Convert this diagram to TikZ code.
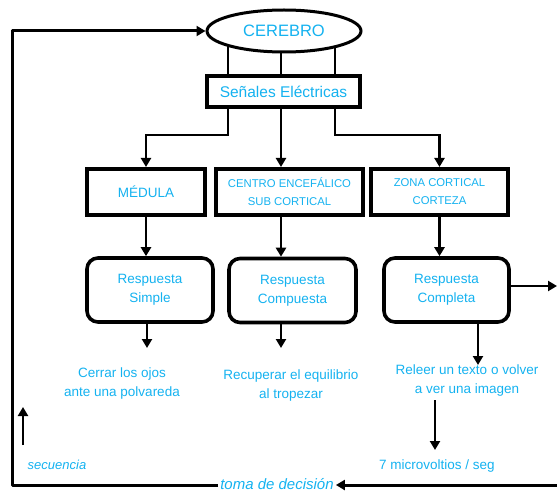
\documentclass[tikz,border=0pt]{standalone}
\usepackage{fontspec}
\setmainfont{Liberation Sans}
\usetikzlibrary{arrows.meta,shapes.geometric,backgrounds}
\definecolor{labelblue}{RGB}{20,178,240}
\begin{document}
\begin{tikzpicture}[x=1pt,y=-1pt,
  txt/.style={text=labelblue, align=center},
  box/.style={draw, line width=4pt, fill=white, inner sep=0pt, txt},
  rbox/.style={box, rounded corners=11pt, line width=3.6pt,
    minimum width=126pt, minimum height=64pt, font=\fontsize{13.5}{19}\selectfont},
  conn/.style={line width=2.4pt},
  arr/.style={conn, -{Triangle[length=9pt,width=10pt]}},
  loopline/.style={line width=3pt, line join=round},
  lbl/.style={txt, font=\fontsize{13.5}{19}\selectfont},
]
\useasboundingbox (0,0) rectangle (557,492);

% top of the chart
\node[ellipse, draw, line width=3pt, fill=white, minimum width=154pt,
  minimum height=42pt, inner sep=0pt, txt, font=\fontsize{16.5}{20}\selectfont]
  (cerebro) at (284,31) {CEREBRO};
\node[box, minimum width=153pt, minimum height=31pt, font=\fontsize{15.5}{19}\selectfont]
  (senales) at (283.5,91.5) {Señales Eléctricas};

% processing levels
\node[box, minimum width=118pt, minimum height=46pt, font=\fontsize{13.5}{16}\selectfont]
  (medula) at (146,192) {MÉDULA};
\node[box, minimum width=147pt, minimum height=46pt, font=\fontsize{11.3}{18}\selectfont]
  (centro) at (289.5,192) {CENTRO ENCEFÁLICO\\SUB CORTICAL};
\node[box, minimum width=137pt, minimum height=46pt, font=\fontsize{11.3}{18}\selectfont]
  (zona) at (439.5,192) {ZONA CORTICAL\\CORTEZA};

% responses
\node[rbox] (simple) at (150,290) {Respuesta\\Simple};
\node[rbox, minimum width=127pt] (compuesta) at (292.5,290.5) {Respuesta\\Compuesta};
\node[rbox, minimum width=125pt] (completa) at (446.5,290) {Respuesta\\Completa};

% examples
\node[lbl] (cerrar) at (122,383.5) {Cerrar los ojos\\ante una polvareda};
\node[lbl] (recuperar) at (291,386) {Recuperar el equilibrio\\al tropezar};
\node[lbl] (releer) at (467,381) {Releer un texto o volver\\a ver una imagen};
\node[lbl] (micro) at (437,466) {7 microvoltios / seg};
\node[txt, font=\fontsize{13}{16}\selectfont\itshape] (secuencia) at (57,465) {secuencia};
\node[txt, font=\fontsize{15}{18}\selectfont\itshape, inner xsep=2pt, inner ysep=0pt]
  (toma) at (277,484) {toma de decisión};

% helper points
\coordinate (tapA) at (228,135);
\coordinate (tapB) at (281,135);
\coordinate (tapC) at (335,135);
\coordinate (endS) at (147,348);
\coordinate (endC) at (281,348);
\coordinate (endK) at (478,365);
\coordinate (mTop) at (435,450);
\coordinate (outR) at (557,286);
\coordinate (sq0) at (23,445);
\coordinate (sq1) at (23,407);
\coordinate (loopR) at (557,485);
\coordinate (loopBL) at (12,485);
\coordinate (loopTL) at (12,31);

% links from the brain to the signal box
\begin{pgfonlayer}{background}
  \draw[conn] (senales.north -| tapA) -- (tapA |- cerebro.center);
  \draw[conn] (senales.north -| tapB) -- (tapB |- cerebro.center);
  \draw[conn] (senales.north -| tapC) -- (tapC |- cerebro.center);
\end{pgfonlayer}

% branches to the three levels
\draw[arr] (senales.south -| tapA) -- (tapA) -| (medula.north);
\draw[arr] (senales.south -| tapB) -- (centro.north -| tapB);
\draw[arr] (senales.south -| tapC) -- (tapC) -| (zona.north);

% levels to responses
\draw[arr] (medula.south) -- (medula.south |- simple.north);
\draw[arr] (centro.south -| tapB) -- (compuesta.north -| tapB);
\draw[arr] (zona.south) -- (zona.south |- completa.north);

% responses to examples
\draw[arr] (simple.south -| endS) -- (endS);
\draw[arr] (compuesta.south -| endC) -- (endC);
\draw[arr] (completa.south -| endK) -- (endK);
\draw[arr] (releer.south -| mTop) -- (mTop);
\draw[arr] (completa.east |- outR) -- (outR);

% feedback loop
\draw[arr] (sq0) -- (sq1);
\draw[loopline, -{Triangle[length=9pt,width=10pt]}] (loopR) -- (toma.east |- loopR);
\draw[loopline, -{Triangle[length=9pt,width=10pt]}] (toma.west |- loopBL) -- (loopBL) -- (loopTL) -- (cerebro.west);
\end{tikzpicture}
\end{document}
